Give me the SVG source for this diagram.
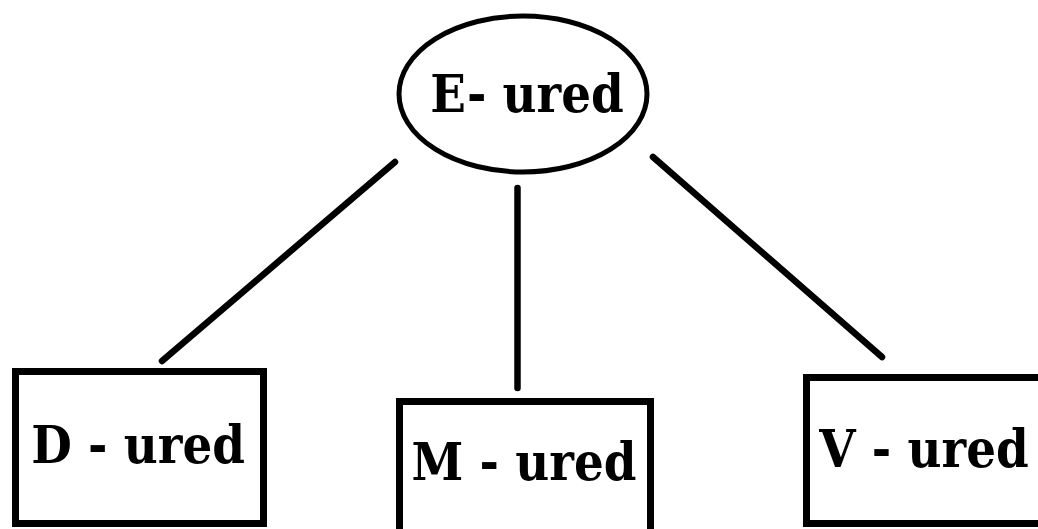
<svg xmlns="http://www.w3.org/2000/svg" width="1038" height="529" viewBox="0 0 1038 529">
<style>
.shape{fill:#fff;stroke:#000;stroke-width:7}
.ell{fill:#fff;stroke:#000;stroke-width:5}
.lbl{font-family:"DejaVu Serif","Liberation Serif",serif;font-weight:bold;font-stretch:condensed;font-size:52px;fill:#000}
.edge{stroke:#000;stroke-width:6.5;stroke-linecap:round;fill:none}
</style>
<rect width="1038" height="529" fill="#fff"/>
<g id="connectors">
<line class="edge" x1="395" y1="162" x2="162" y2="361"/>
<line class="edge" x1="517.5" y1="188" x2="517.5" y2="388"/>
<line class="edge" x1="653" y1="157" x2="882" y2="357"/>
</g>
<g id="node-e">
<ellipse class="ell" cx="523" cy="94" rx="124" ry="78"/>
<text class="lbl" x="527" y="112" text-anchor="middle">E- ured</text>
</g>
<g id="node-d">
<rect class="shape" x="15.5" y="371.5" width="248" height="152"/>
<text class="lbl" x="138" y="463" text-anchor="middle">D - ured</text>
</g>
<g id="node-m">
<rect class="shape" x="399.5" y="401.5" width="251" height="140"/>
<text class="lbl" x="524" y="480" text-anchor="middle">M - ured</text>
</g>
<g id="node-v">
<rect class="shape" x="806.5" y="377.5" width="250" height="146"/>
<text class="lbl" x="924" y="467" text-anchor="middle">V - ured</text>
</g>
</svg>
